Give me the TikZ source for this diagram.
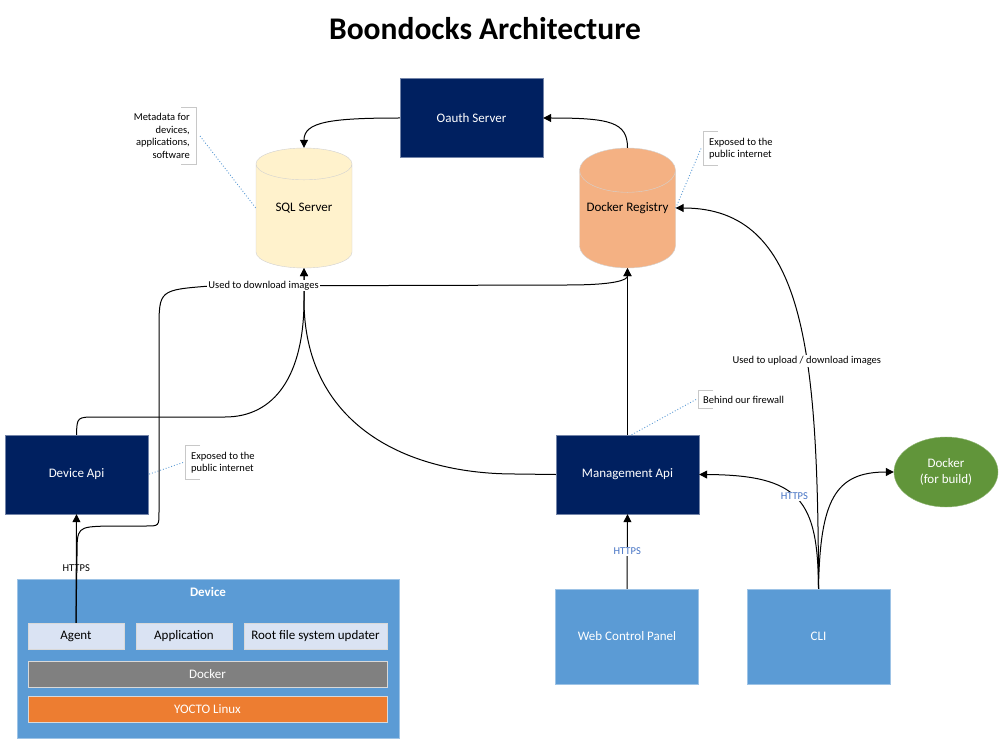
\documentclass[tikz,border=0pt]{standalone}
\usepackage{fontspec}
\setmainfont{Carlito}
\usetikzlibrary{shapes.geometric,arrows.meta}

\definecolor{navy}{HTML}{002060}
\definecolor{boxblue}{HTML}{5B9BD5}
\definecolor{partblue}{HTML}{DAE3F3}
\definecolor{sqlyellow}{HTML}{FFF2CC}
\definecolor{regorange}{HTML}{F4B183}
\definecolor{linuxorange}{HTML}{ED7D31}
\definecolor{buildgreen}{HTML}{61953A}
\definecolor{linkblue}{HTML}{4472C4}
\definecolor{notegray}{HTML}{C8C8C8}

\begin{document}
\begin{tikzpicture}[x=1pt,y=-1pt,
  every node/.style={font=\fontsize{13}{16}\selectfont},
  serverbox/.style={rectangle,fill=navy,draw=navy!55!white,text=white,
    minimum width=143pt,minimum height=79pt},
  clientbox/.style={rectangle,fill=boxblue,draw=boxblue!60!white,text=white,
    minimum width=143pt,minimum height=95pt},
  storecyl/.style={cylinder,shape border rotate=90,aspect=0.5,draw=gray!35,
    anchor=shape center,minimum width=96pt,minimum height=120pt},
  partbox/.style={rectangle,fill=partblue,draw=gray!30,minimum height=26pt},
  layerbox/.style={rectangle,draw=gray!30,text=white,
    minimum width=359pt,minimum height=26pt},
  note/.style={font=\fontsize{10.5}{12.5}\selectfont,inner sep=6pt},
  bracket/.style={draw=notegray,line width=0.8pt},
  callout/.style={draw=boxblue,dotted,line width=0.9pt},
  flow/.style={draw=black,line width=1pt,-{Triangle[length=8pt,width=8pt]}},
  flowlabel/.style={font=\fontsize{10.5}{12.5}\selectfont,fill=white,inner sep=1pt}]

\fill[white] (0,0) rectangle (1004,746);
\useasboundingbox (0,0) rectangle (1004,746);

\node[font=\bfseries\fontsize{31.5}{36}\selectfont] (title) at (485,29) {Boondocks Architecture};

% servers and stores
\node[serverbox] (oauth) at (471.5,118) {Oauth Server};
\node[serverbox] (dev) at (76.5,474.5) {Device Api};
\node[serverbox] (mgmt) at (627.5,474.5) {Management Api};
\node[storecyl,fill=sqlyellow] (sql) at (304,208) {\phantom{SQL Server}};
\node (sqltext) at (sql.shape center) {SQL Server};
\node[storecyl,fill=regorange] (reg) at (627.5,208) {\phantom{Docker Registry}};
\node (regtext) at (reg.shape center) {Docker Registry};

% clients
\node[clientbox] (web) at (627,636.5) {Web Control Panel};
\node[clientbox] (cli) at (818.5,636.5) {CLI};
\node[ellipse,fill=buildgreen,draw=buildgreen!70!white,text=white,align=center,
  minimum width=104pt,minimum height=70pt] (build) at (946,472) {Docker\\(for build)};

\scope % the device stack
\node[rectangle,fill=boxblue,draw=boxblue!60!white,minimum width=382pt,
  minimum height=159pt] (device) at (208,658.5) {};
\node[font=\bfseries\fontsize{13}{16}\selectfont,text=white] (devtitle) at (208,592) {Device};
\node[partbox,minimum width=96pt] (agent) at (76,636) {Agent};
\node[partbox,minimum width=96pt] (app) at (184,636) {Application};
\node[partbox,minimum width=143pt] (rootfs) at (315.5,636) {Root file system updater};
\node[layerbox,fill=gray] (dock) at (207.5,674.5) {Docker};
\node[layerbox,fill=linuxorange] (yocto) at (207.5,709) {YOCTO Linux};
\endscope

% notes
\node[note,align=right,anchor=east] (meta) at (196,136) {Metadata for\\devices,\\applications,\\software};
\draw[bracket] ([xshift=-15pt]meta.north east) -- (meta.north east) -- (meta.south east) -- ([xshift=-15pt]meta.south east);
\draw[callout] ([xshift=4pt]meta.east) -- (sql.shape center -| sql.west);

\node[note,align=left,anchor=west] (regnote) at (703,148.5) {Exposed to the\\public internet};
\draw[bracket] ([xshift=15pt]regnote.north west) -- (regnote.north west) -- (regnote.south west) -- ([xshift=15pt]regnote.south west);
\draw[callout] ([xshift=-2pt]regnote.west) -- (reg.shape center -| reg.east);

\node[note,align=left,anchor=west] (devnote) at (185,462.5) {Exposed to the\\public internet};
\draw[bracket] ([xshift=15pt]devnote.north west) -- (devnote.north west) -- (devnote.south west) -- ([xshift=15pt]devnote.south west);
\draw[callout] ([xshift=-2pt]devnote.west) -- (dev.east);

\node[note,anchor=west,inner sep=5pt] (fwnote) at (698,399.5) {Behind our firewall};
\draw[bracket] ([xshift=15pt]fwnote.north west) -- (fwnote.north west) -- (fwnote.south west) -- ([xshift=15pt]fwnote.south west);
\draw[callout] ([xshift=-2pt]fwnote.west) -- ([xshift=4pt]mgmt.north);

% connectors
\draw[flow] (oauth.west) .. controls (330,118) and (304,122) .. (sql.north);
\draw[flow] (reg.north) .. controls (627.5,122) and (610,118) .. (oauth.east);
\draw[flow] (mgmt.north) -- (reg.south);
\draw[flow] (web.north) -- node[flowlabel,text=linkblue] {HTTPS} (mgmt.south);
\draw[flow] (cli.north) .. controls (818,350) and (805,208) .. node[flowlabel,pos=0.38] {Used to upload / download images} (reg.shape center -| reg.east);
\draw[flow] (cli.north) .. controls (818,500) and (800,475) .. node[flowlabel,text=linkblue,pos=0.52] {HTTPS} (mgmt.east);
\draw[flow] (cli.north) .. controls (820,500) and (835,472) .. (build.west);
\draw[flow] (mgmt.west) -- (515,474) .. controls (400,474) and (304,420) .. (304,300) -- (sql.south);
\draw[flow] (dev.north) .. controls (77,417) .. (97,417) -- (225,417) .. controls (275,417) and (304,375) .. (304,300) -- (sql.south);
\draw[flow] (agent.north) -- node[flowlabel,fill=none] {HTTPS} (dev.south);
\draw[flow] (agent.north) -- (77,556) .. controls (77,527) .. (107,526) -- (146,526)
  .. controls (159,526) .. (159,512) -- (159,330) .. controls (159,290) .. (210,286)
  -- node[flowlabel,pos=0.15] {Used to download images} (567,285)
  .. controls (615,285) and (627.5,280) .. (reg.south);
\end{tikzpicture}
\end{document}
